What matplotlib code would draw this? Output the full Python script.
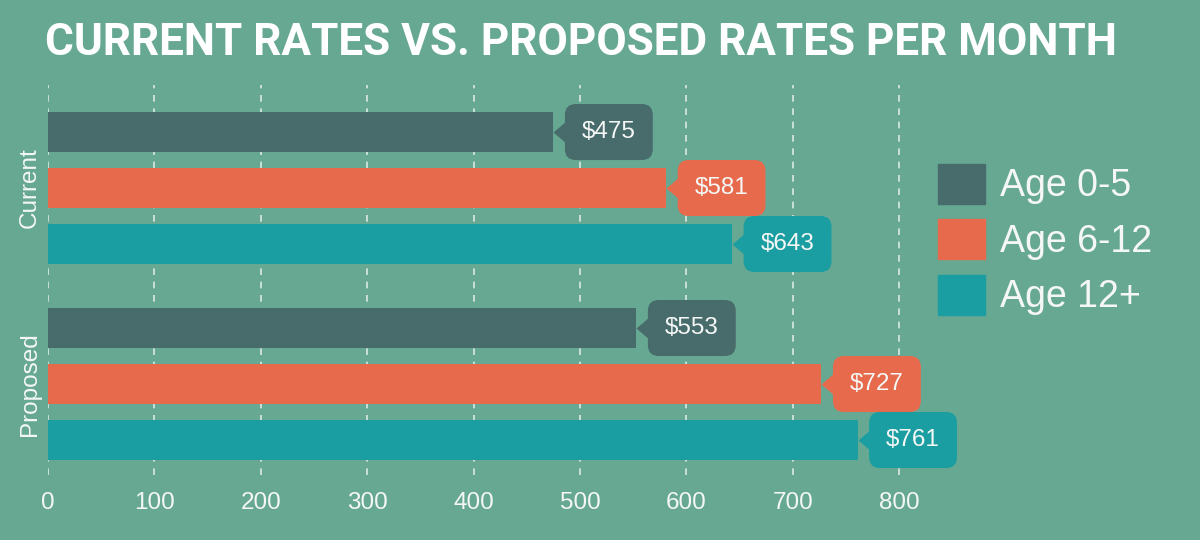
import matplotlib
matplotlib.use("Agg")
import matplotlib.pyplot as plt
from matplotlib.patches import Patch

# data
groups = ["Current", "Proposed"]
ages = ["Age 0-5", "Age 6-12", "Age 12+"]
current_rates = [475, 581, 643]
proposed_rates = [553, 727, 761]
xticks = [0, 100, 200, 300, 400, 500, 600, 700, 800]
title = "CURRENT RATES VS. PROPOSED RATES PER MONTH"

BG = "#67a893"
COLORS = ["#486b6b", "#e86a4c", "#1a9ea1"]
TXT = "#f4f7f5"
SANS = ["Liberation Sans", "DejaVu Sans"]

plt.rcParams["font.family"] = SANS

fig = plt.figure(figsize=(12, 5.4), dpi=100, facecolor=BG)
ax = fig.add_axes([48 / 1200, 65 / 540, 862 / 1200, 390 / 540], facecolor=BG)

group_pos = [0.0, 3.5]
tag_shape = [(0, 0), (1, 0.85), (1, -0.85)]

for gi, rates in enumerate([current_rates, proposed_rates]):
    for i, (val, col) in enumerate(zip(rates, COLORS)):
        y = group_pos[gi] + i
        ax.barh(y, val, height=0.7, color=col, zorder=2,
                label=ages[i] if gi == 0 else None)
        # callout pointer + rounded label box
        ax.plot([val], [y], marker=tag_shape, markersize=23, color=col,
                markeredgewidth=0, zorder=3, clip_on=False)
        ax.annotate(f"${val}", xy=(val, y), xytext=(40, 0),
                    textcoords="offset points", ha="center", va="center",
                    fontsize=17.5, color=TXT, zorder=4, annotation_clip=False,
                    bbox=dict(boxstyle="round,pad=0.7,rounding_size=0.45",
                              fc=col, ec="none"))

ax.set_xlim(0, 862 / 1.06375)
ax.set_ylim(6.125, -0.84)
ax.set_xticks(xticks)
ax.set_xticklabels([str(t) for t in xticks])
ax.set_yticks([1, 4.5])
ax.set_yticklabels(groups, rotation=90, va="center", ha="right")
ax.tick_params(axis="x", length=0, pad=12, labelsize=17.5, labelcolor=TXT)
ax.tick_params(axis="y", length=0, pad=5, labelsize=17.5, labelcolor=TXT)
ax.grid(axis="x", color="white", alpha=0.75, linestyle=(0, (4, 4)),
        linewidth=1.2, zorder=1)
ax.set_axisbelow(True)
for s in ax.spines.values():
    s.set_visible(False)

handles = [Patch(color=c, label=a) for c, a in zip(COLORS, ages)]
fig.legend(handles=handles, loc="upper left",
           bbox_to_anchor=(938 / 1200, 1 - 164 / 540), frameon=False,
           fontsize=27, labelcolor=TXT, handlelength=1.25, handleheight=1.25,
           handletextpad=0.4, labelspacing=0.4, borderpad=0, borderaxespad=0)

# no condensed face installed, so size the title to span the same width
ttl = fig.text(45 / 1200, 1 - 43 / 540, title, ha="left", va="center",
               fontsize=40, fontweight="bold", color="white",
               family=["Roboto", "Liberation Sans", "DejaVu Sans"])
renderer = fig.canvas.get_renderer()
w = ttl.get_window_extent(renderer).width
ttl.set_fontsize(40 * 1072 / w)

fig.savefig("out.png", dpi=100, facecolor=BG)
